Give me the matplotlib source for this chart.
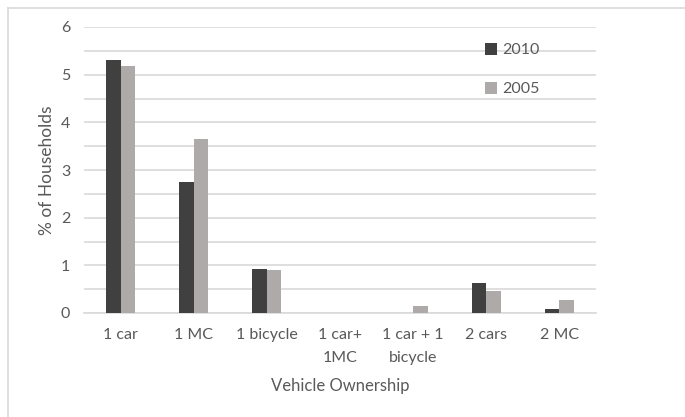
import matplotlib.pyplot as plt
import numpy as np

categories = ['1 car', '1 MC', '1 bicycle', '1 car+\n1MC', '1 car + 1\nbicycle', '2 cars', '2 MC']
share_2010 = [5.30, 2.75, 0.92, 0.0, 0.0, 0.63, 0.09]
share_2005 = [5.18, 3.65, 0.90, 0.0, 0.15, 0.46, 0.28]

text_color = '#595959'
grid_color = '#d9d9d9'

plt.rcParams['font.family'] = ['Lato', 'DejaVu Sans']

fig = plt.figure(figsize=(6.85, 4.17), dpi=100)
ax = fig.add_axes([84 / 685, 1 - 313 / 417, 512 / 685, 286 / 417])

x = np.arange(len(categories))
width = 0.2
ax.bar(x - width / 2, share_2010, width, color='#404040', label='2010', zorder=3)
ax.bar(x + width / 2, share_2005, width, color='#aeaaaa', label='2005', zorder=3)

ax.set_xlim(-0.5, len(categories) - 0.5)
ax.set_ylim(0, 6)
ax.set_yticks(range(0, 7))
ax.set_yticks(np.arange(0.5, 6, 1), minor=True)
ax.grid(axis='y', which='both', color=grid_color, linewidth=1.2, zorder=0)
ax.tick_params(axis='both', which='both', length=0, colors=text_color, labelsize=11.5)
ax.tick_params(axis='y', pad=10)
ax.tick_params(axis='x', pad=11)
ax.set_xticks(x)
ax.set_xticklabels(categories, linespacing=1.8)
for side in ['top', 'right', 'left']:
    ax.spines[side].set_visible(False)
ax.spines['bottom'].set_color(grid_color)
ax.spines['bottom'].set_linewidth(1.2)

ax.set_ylabel('% of Households', color=text_color, fontsize=12.5, labelpad=4)
ax.set_xlabel('Vehicle Ownership', color=text_color, fontsize=12, labelpad=9)

leg = ax.legend(loc='upper left', bbox_to_anchor=(0.755, 0.995), frameon=False,
                handlelength=0.75, handleheight=0.75, handletextpad=0.3,
                labelspacing=1.55, fontsize=11.5)
for t in leg.get_texts():
    t.set_color(text_color)

# light frame along the top and left edges
fig.add_artist(plt.Line2D([8 / 685, 1], [1 - 8 / 417] * 2, color=grid_color,
                          linewidth=1.2, transform=fig.transFigure))
fig.add_artist(plt.Line2D([8 / 685] * 2, [0, 1 - 8 / 417], color=grid_color,
                          linewidth=1.2, transform=fig.transFigure))

fig.savefig('out.png', dpi=100)
